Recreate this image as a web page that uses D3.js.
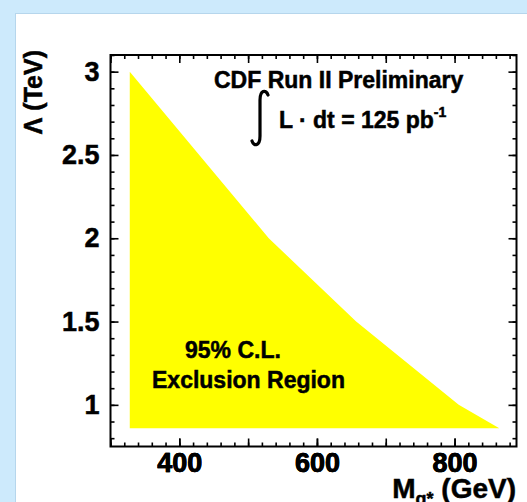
<!DOCTYPE html>
<html>
<head>
<meta charset="utf-8">
<script src="https://cdn.jsdelivr.net/npm/d3@7"></script>
<style>
  html, body { margin: 0; padding: 0; background: #cdeafc; overflow: hidden; }
  svg { display: block; }
  text { font-family: "Liberation Sans", Arial, sans-serif; font-weight: bold; fill: #000; stroke: #000; stroke-width: 0.5; }
</style>
</head>
<body>
<div id="chart"></div>
<script>
// exclusion contour (M_q* in GeV, Lambda in TeV)
const massGeV = [328, 530, 657, 806, 865];
const lambdaTeV = [3.0, 2.0, 1.5, 1.0, 0.86];
const lambdaFloor = 0.86;
const xLabelTicks = [400, 600, 800];
const yLabelTicks = [1, 1.5, 2, 2.5, 3];

const W = 527, H = 502;
const frame = {left: 110.5, top: 55, right: 516.5, bottom: 446.5};

const svg = d3.select("#chart").append("svg")
  .attr("width", W).attr("height", H);

// white panel
svg.append("rect")
  .attr("x", 15.5).attr("y", 13.5)
  .attr("width", W).attr("height", H)
  .attr("fill", "#fff").attr("stroke", "#b6d6ec").attr("stroke-width", 1);

const x = d3.scaleLinear().domain([300, 890]).range([frame.left, frame.right]);
const y = d3.scaleLinear().domain([0.75, 3.1]).range([frame.bottom, frame.top]);

// exclusion region
const pts = [[massGeV[0], lambdaFloor]]
  .concat(massGeV.map((m, i) => [m, lambdaTeV[i]]))
  .concat([[massGeV[massGeV.length - 1], lambdaFloor]]);
svg.append("path")
  .datum(pts)
  .attr("d", d3.line().x(d => x(d[0])).y(d => y(d[1])))
  .attr("fill", "#ffff00");

// ticks on all four sides, pointing inward
function ticks(axisFn, scale, values, len, transform, labels, pad) {
  const ax = axisFn(scale).tickValues(values).tickSize(-len)
    .tickPadding(pad || 0)
    .tickFormat(d => labels && labels.includes(d) ? d3.format("~g")(d) : "");
  const g = svg.append("g").attr("transform", transform).call(ax);
  g.select(".domain").remove();
  g.selectAll("line").attr("stroke", "#000").attr("stroke-width", 1.6);
  g.selectAll("text").attr("font-size", 27).attr("font-family", "Liberation Sans, Arial, sans-serif")
    .attr("font-weight", "bold").attr("fill", "#000");
  return g;
}
const xMinor = d3.range(300, 891, 20), xMajor = d3.range(300, 891, 100);
const yMinor = d3.range(8, 32).map(v => v / 10), yMajor = [1, 1.5, 2, 2.5, 3];

ticks(d3.axisBottom, x, xMinor, 4, `translate(0,${frame.bottom})`);
ticks(d3.axisBottom, x, xMajor.concat(xLabelTicks), 8, `translate(0,${frame.bottom})`, xLabelTicks, 6);
ticks(d3.axisTop, x, xMinor, 4, `translate(0,${frame.top})`);
ticks(d3.axisTop, x, xMajor, 8, `translate(0,${frame.top})`);
ticks(d3.axisLeft, y, yMinor, 4, `translate(${frame.left},0)`);
ticks(d3.axisLeft, y, yMajor, 8, `translate(${frame.left},0)`, yLabelTicks, 11);
ticks(d3.axisRight, y, yMinor, 4, `translate(${frame.right},0)`);
ticks(d3.axisRight, y, yMajor, 8, `translate(${frame.right},0)`);

// frame
svg.append("rect")
  .attr("x", frame.left).attr("y", frame.top)
  .attr("width", frame.right - frame.left).attr("height", frame.bottom - frame.top)
  .attr("fill", "none").attr("stroke", "#000").attr("stroke-width", 2);

// axis titles
svg.append("text")
  .attr("transform", "translate(42,50) rotate(-90)")
  .attr("text-anchor", "end").attr("font-size", 25)
  .text("\u039B (TeV)");

const xt = svg.append("text")
  .attr("x", 516).attr("y", 498)
  .attr("text-anchor", "end").attr("font-size", 28);
xt.append("tspan").text("M");
xt.append("tspan").attr("font-size", 18).attr("dy", 7).text("q*");
xt.append("tspan").attr("dy", -7).text(" (GeV)");

// annotations
svg.append("text").attr("x", 214).attr("y", 88).attr("font-size", 23)
  .text("CDF Run II Preliminary");

svg.append("path")
  .attr("d", "M268,95 C266,89 260,90 260,100 L260,136 C260,146 254,147 252,141")
  .attr("fill", "none").attr("stroke", "#000").attr("stroke-width", 3.2)
  .attr("stroke-linecap", "round");

const lum = svg.append("text").attr("x", 279).attr("y", 128).attr("font-size", 23);
lum.append("tspan").text("L \u00B7 dt = 125 pb");
lum.append("tspan").attr("font-size", 14).attr("dy", -11).text("-1");

svg.append("text").attr("x", 185).attr("y", 358).attr("font-size", 23)
  .text("95% C.L.");
svg.append("text").attr("x", 152).attr("y", 388).attr("font-size", 23)
  .text("Exclusion Region");
</script>
</body>
</html>
